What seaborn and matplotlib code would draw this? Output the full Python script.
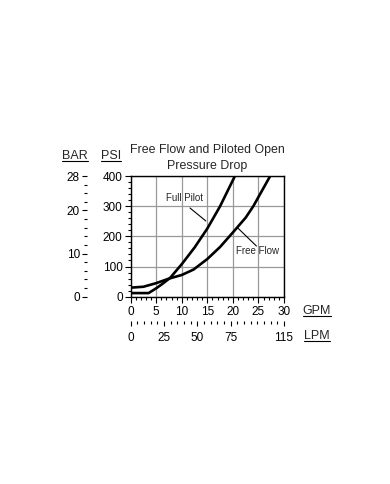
import matplotlib
matplotlib.use("Agg")
import matplotlib.pyplot as plt
import seaborn as sns
import pandas as pd
import numpy as np
from matplotlib.ticker import MultipleLocator
from matplotlib.lines import Line2D

sns.set_style("white")
plt.rcParams['font.family'] = ['Liberation Sans', 'DejaVu Sans']

# Data (GPM, PSI)
full_pilot_gpm = [0, 3.5, 5, 6, 7.7, 10, 12.5, 15, 17.5, 20.4]
full_pilot_psi = [12, 12, 28, 40, 62, 108, 163, 226, 300, 400]
free_flow_gpm = [0, 2.5, 5, 7.5, 10, 12.3, 15, 17.5, 20, 22.5, 24, 27.3]
free_flow_psi = [30, 33, 45, 60, 72, 90, 125, 165, 213, 262, 300, 400]

gpm_ticks = [0, 5, 10, 15, 20, 25, 30]
psi_ticks = [0, 100, 200, 300, 400]
bar_ticks = [0, 10, 20, 28]
lpm_ticks = [0, 25, 50, 75, 115]

PSI_PER_BAR = 400 / 28
LPM_PER_GPM = 115 / 30

df = pd.concat([
    pd.DataFrame({"gpm": full_pilot_gpm, "psi": full_pilot_psi, "s": "Full Pilot"}),
    pd.DataFrame({"gpm": free_flow_gpm, "psi": free_flow_psi, "s": "Free Flow"}),
])

fig = plt.figure(figsize=(3.9, 4.84), dpi=100)
W, H = 390, 484
x0, x1, y0, y1 = 130.7, 284.0, 296.7, 176.0
ax = fig.add_axes([x0 / W, 1 - y0 / H, (x1 - x0) / W, (y0 - y1) / H])

FS = 8.5
sns.lineplot(data=df, x="gpm", y="psi", units="s", estimator=None, sort=False,
             color="black", linewidth=1.9, ax=ax, legend=False)

ax.set_xlim(0, 30)
ax.set_ylim(0, 400)
ax.set_xticks(gpm_ticks)
ax.set_yticks(psi_ticks)
ax.xaxis.set_minor_locator(MultipleLocator(1))
ax.yaxis.set_minor_locator(MultipleLocator(20))
ax.grid(True, which="major", color="#999999", linewidth=0.9)
ax.set_axisbelow(True)
for sp in ax.spines.values():
    sp.set_visible(True)
    sp.set_color("black")
    sp.set_linewidth(1.0)
ax.tick_params(axis="both", which="major", direction="out", length=4.3, width=0.8,
               colors="black", labelsize=FS, pad=1.5, left=True, bottom=True)
ax.tick_params(axis="both", which="minor", direction="out", length=2.2, width=0.8,
               colors="black", left=True, bottom=True)
ax.tick_params(axis="x", which="major", pad=2.5)
ax.set_xlabel("")
ax.set_ylabel("")

# BAR secondary axis
sec_y = ax.secondary_yaxis((87 - x0) / (x1 - x0),
                           functions=(lambda p: p / PSI_PER_BAR, lambda b: b * PSI_PER_BAR))
sec_y.set_yticks(bar_ticks)
sec_y.yaxis.set_minor_locator(MultipleLocator(2))
sec_y.spines["left"].set_visible(False)
sec_y.tick_params(axis="y", which="major", direction="out", length=3.6, width=0.8,
                  labelsize=FS, pad=1.5, colors="black")
sec_y.tick_params(axis="y", which="minor", direction="out", length=2.2, width=0.8, colors="black")

# LPM secondary axis
sec_x = ax.secondary_xaxis((y0 - 321) / (y0 - y1),
                           functions=(lambda g: g * LPM_PER_GPM, lambda l: l / LPM_PER_GPM))
sec_x.set_xticks(lpm_ticks)
sec_x.xaxis.set_minor_locator(MultipleLocator(5))
sec_x.spines["bottom"].set_visible(False)
sec_x.tick_params(axis="x", which="major", direction="out", length=3.6, width=0.8,
                  labelsize=FS, pad=4, colors="black")
sec_x.tick_params(axis="x", which="minor", direction="out", length=2.2, width=0.8, colors="black")

ax.set_title("Free Flow and Piloted Open\nPressure Drop", fontsize=8.9, pad=5, linespacing=1.45)

# Curve labels with leader lines
ax.text(10.6, 327, "Full Pilot", fontsize=7, ha="center", va="center")
ax.plot([11.6, 14.7], [294, 251], color="black", lw=0.8)
ax.text(24.9, 151, "Free Flow", fontsize=7, ha="center", va="center")
ax.plot([21.0, 24.6], [227, 168], color="black", lw=0.8)

# Unit labels (underlined)
units = []
for (ux, uy, s) in [(75, 156, "BAR"), (111, 156, "PSI"), (317, 311, "GPM"), (317, 336, "LPM")]:
    units.append(fig.text(ux / W, 1 - uy / H, s, fontsize=FS + 0.5, ha="center", va="center"))

fig.canvas.draw()
renderer = fig.canvas.get_renderer()
for t in units:
    bb = t.get_window_extent(renderer)
    yl = bb.y0 + 1.5
    fig.add_artist(Line2D([bb.x0 / W, bb.x1 / W], [yl / H, yl / H],
                          transform=fig.transFigure, color="black", linewidth=0.8))

fig.savefig("out.png", dpi=100)
